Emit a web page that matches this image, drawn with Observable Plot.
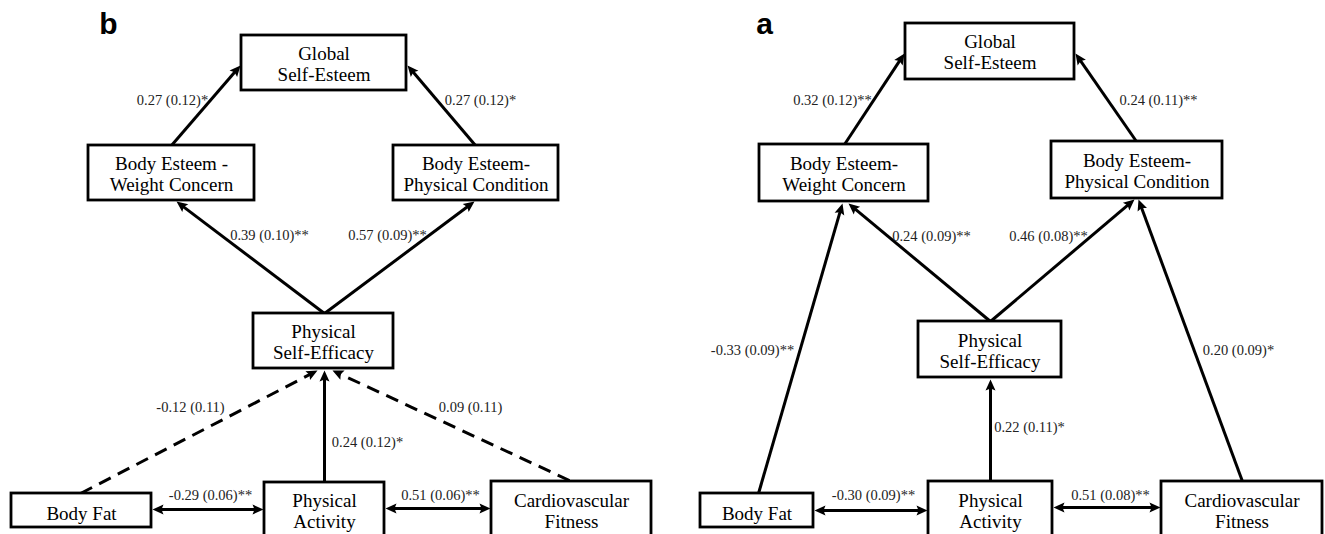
<!DOCTYPE html>
<html>
<head>
<meta charset="utf-8">
<script src="https://cdn.jsdelivr.net/npm/d3@7"></script>
<script src="https://cdn.jsdelivr.net/npm/@observablehq/plot@0.6"></script>
<style>
  html, body { margin: 0; padding: 0; background: #fff; }
</style>
</head>
<body>
<div id="chart"></div>
<script>
// ---------- DATA ----------
const panelLetters = ["b", "a"];

const nodeIds = ["GSE", "BEWC", "BEPC", "PSE", "BF", "PA", "CF"];
const nodeLabelsB = ["Global\nSelf-Esteem", "Body Esteem -\nWeight Concern", "Body Esteem-\nPhysical Condition",
  "Physical\nSelf-Efficacy", "Body Fat", "Physical\nActivity", "Cardiovascular\nFitness"];
const nodeLabelsA = ["Global\nSelf-Esteem", "Body Esteem-\nWeight Concern", "Body Esteem-\nPhysical Condition",
  "Physical\nSelf-Efficacy", "Body Fat", "Physical\nActivity", "Cardiovascular\nFitness"];

const pathFrom = ["BEWC", "BEPC", "PSE", "PSE", "BF", "CF", "PA", "BF", "PA"];
const pathTo   = ["GSE", "GSE", "BEWC", "BEPC", "PSE", "PSE", "PSE", "PA", "CF"];
const pathBidirectional = [false, false, false, false, false, false, false, true, true];

// panel b
const estB = [0.27, 0.27, 0.39, 0.57, -0.12, 0.09, 0.24, -0.29, 0.51];
const seB  = [0.12, 0.12, 0.10, 0.09, 0.11, 0.11, 0.12, 0.06, 0.06];
const sigB = ["*", "*", "**", "**", "", "", "*", "**", "**"];
// panel a
const pathToA = ["GSE", "GSE", "BEWC", "BEPC", "BEWC", "BEPC", "PSE", "PA", "CF"];
const estA = [0.32, 0.24, 0.24, 0.46, -0.33, 0.20, 0.22, -0.30, 0.51];
const seA  = [0.12, 0.11, 0.09, 0.08, 0.09, 0.09, 0.11, 0.09, 0.08];
const sigA = ["**", "**", "**", "**", "**", "*", "*", "**", "**"];

// ---------- LAYOUT (diagram coordinates) ----------
const boxLayoutB = [
  [241, 406, 35, 90, 63], [88, 254, 145, 200, 173], [393, 558, 145, 200, 173],
  [253, 393, 313, 368, 341], [11, 151, 493, 527, 512], [264, 384, 482, 540, 510], [491, 651, 481, 540, 510]
];
const boxLayoutA = [
  [905, 1074, 23, 79, 51], [759, 928, 144, 201, 173], [1051, 1222, 141, 198, 170],
  [918, 1061, 321, 377, 350], [700, 813, 493, 527, 512], [928, 1052, 481, 540, 510], [1161, 1322, 481, 540, 510]
];
// [x1, y1, x2(tip), y2(tip), labelX, labelY]
const pathLayoutB = [
  [171, 145, 240, 65, 172, 100], [475, 145, 407, 65, 480, 100],
  [324, 313, 176, 201, 269, 235], [324, 313, 474, 201, 387, 235],
  [80, 493, 317, 370, 190, 407], [569, 480, 332, 370, 470, 407],
  [324, 482, 324, 370, 367, 442],
  [152, 509, 263, 509, 210, 495], [385, 508, 490, 508, 440, 495]
];
const pathLayoutA = [
  [844, 144, 904, 53, 832, 100], [1136, 141, 1075, 53, 1158, 100],
  [990, 321, 848, 203, 931, 236], [990, 321, 1134, 199, 1048, 236],
  [758, 493, 842, 203, 752, 350], [1242, 481, 1138, 199, 1238, 350],
  [990, 481, 990, 379, 1029, 427],
  [814, 510, 927, 510, 873, 495], [1053, 507, 1160, 507, 1110, 495]
];
const letterLayout = [[108, 24], [764, 24]];

// ---------- BUILD TABLES ----------
const fmt = v => (v < 0 ? "-" : "") + Math.abs(v).toFixed(2);
const nodes = [], paths = [], heads = [];
const HEAD = 10;

function buildPanel(panel, labels, boxes, to, est, se, sig, layout) {
  nodeIds.forEach((id, i) => {
    const [x1, x2, y1, y2, ty] = boxes[i];
    nodes.push({panel, id, label: labels[i], x1, x2, y1, y2, cx: (x1 + x2) / 2, ty});
  });
  pathFrom.forEach((f, i) => {
    const [x1, y1, x2, y2, lx, ly] = layout[i];
    const dashed = panel === "b" && sig[i] === "";
    const both = pathBidirectional[i];
    const dx = x2 - x1, dy = y2 - y1, len = Math.hypot(dx, dy);
    const ux = dx / len, uy = dy / len;
    const sh = HEAD * 0.8;
    paths.push({
      panel, from: f, to: to[i], dashed,
      x1: both ? x1 + ux * sh : x1, y1: both ? y1 + uy * sh : y1,
      x2: x2 - ux * sh, y2: y2 - uy * sh,
      lx, ly, label: `${fmt(est[i])} (${se[i].toFixed(2)})${sig[i]}`
    });
    const ang = Math.atan2(dx, -dy) * 180 / Math.PI;
    heads.push({x: x2, y: y2, rotate: ang});
    if (both) heads.push({x: x1, y: y1, rotate: ang + 180});
  });
}
buildPanel("b", nodeLabelsB, boxLayoutB, pathTo, estB, seB, sigB, pathLayoutB);
buildPanel("a", nodeLabelsA, boxLayoutA, pathToA, estA, seA, sigA, pathLayoutA);

const letters = panelLetters.map((t, i) => ({t, x: letterLayout[i][0], y: letterLayout[i][1]}));

// arrowhead symbol: tip at origin, pointing up
const headSymbol = {
  draw(context) {
    context.moveTo(0, 0);
    context.lineTo(-5, HEAD + 1);
    context.lineTo(0, HEAD - 1);
    context.lineTo(5, HEAD + 1);
    context.closePath();
  }
};

const serif = "Liberation Serif, serif";

const chart = Plot.plot({
  width: 1325,
  height: 534,
  margin: 0,
  x: {domain: [0, 1325], range: [0, 1325], axis: null},
  y: {domain: [0, 534], range: [0, 534], axis: null},
  style: {background: "white", fontFamily: serif},
  marks: [
    Plot.link(paths.filter(d => !d.dashed), {x1: "x1", y1: "y1", x2: "x2", y2: "y2", stroke: "black", strokeWidth: 3}),
    Plot.link(paths.filter(d => d.dashed), {x1: "x1", y1: "y1", x2: "x2", y2: "y2", stroke: "black", strokeWidth: 3, strokeDasharray: "13,8"}),
    Plot.rect(nodes, {x1: "x1", x2: "x2", y1: "y1", y2: "y2", fill: "white", stroke: "black", strokeWidth: 2.8}),
    Plot.dot(heads, {x: "x", y: "y", rotate: "rotate", symbol: headSymbol, r: 5, fill: "black", stroke: "none"}),
    Plot.text(nodes, {x: "cx", y: "ty", text: "label", fontFamily: serif, fontSize: 19, lineHeight: 1.15, fill: "black"}),
    Plot.text(paths, {x: "lx", y: "ly", text: "label", fontFamily: serif, fontSize: 14.5, fill: "#222"}),
    Plot.text(letters, {x: "x", y: "y", text: "t", fontFamily: "Liberation Sans, Arial, sans-serif", fontWeight: "bold", fontSize: 30, fill: "black"})
  ]
});
document.getElementById("chart").appendChild(chart);
</script>
</body>
</html>
